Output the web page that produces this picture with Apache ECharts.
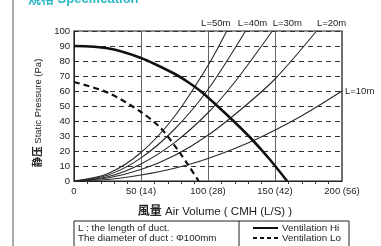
<!DOCTYPE html>
<html>
<head>
<meta charset="utf-8">
<script src="https://cdn.jsdelivr.net/npm/echarts@6/dist/echarts.min.js"></script>
<style>
html,body{margin:0;padding:0;background:#fff;}
#chart{width:381px;height:246px;}
</style>
</head>
<body>
<div id="chart"></div>
<script>
// [air volume, static pressure]
var ventHi = [[0,90],[25,88.5],[50,82],[75,71.5],[85,66],[95,59.5],[107,50],[119,40],[132,28.5],[146,14.5],[159,0]];
var ventLo = [[0,66],[25,59],[50,46],[65,35],[78,20],[85,11],[93,0]];
var duct10 = [[0,0],[25,1],[50,4],[75,8.5],[100,15],[134,27],[169,43],[200,60]];
var duct20 = [[0,0],[25,2],[50,7.6],[75,17],[100,30.5],[125,48],[150,68],[181,100]];
var duct30 = [[0,0],[25,2.8],[50,11.4],[75,25.6],[100,45.5],[120,66],[148,100]];
var duct40 = [[0,0],[25,3.8],[50,15.4],[75,34.5],[100,61],[128,100]];
var duct50 = [[0,0],[25,4.8],[50,19],[75,43],[100,77],[114,100]];
var ductNames = ['L=10m','L=20m','L=30m','L=40m','L=50m'];
var xTickLabels = {0:'0',50:'50 (14)',100:'100 (28)',150:'150 (42)',200:'200 (56)'};

var font = "'Liberation Sans', Arial, 'Noto Sans CJK SC', sans-serif";

function ductSeries(data, name, pos, offset){
    return {
        type:'line', name:name, data:data, smooth:0.3, symbol:'none',
        lineStyle:{color:'#2a2a2a', width:1.1}, z:3,
        markPoint:{
            silent:true, symbol:'circle', symbolSize:0,
            data:[{coord:data[data.length - 1]}],
            label:{show:true, position:pos, distance:3, offset:offset, formatter:name,
                color:'#222', fontSize:9.5, fontFamily:font}
        }
    };
}

var option = {
    animation:false,
    grid:{left:74, right:39, top:31, bottom:65, show:true, borderColor:'#222', borderWidth:1.2},
    xAxis:{
        type:'value', min:0, max:200, interval:50,
        axisLine:{lineStyle:{color:'#222'}},
        axisTick:{show:false},
        minorTick:{show:true, splitNumber:5, length:3, lineStyle:{color:'#333'}},
        axisLabel:{color:'#222', fontSize:9.5, fontFamily:font, margin:6,
            formatter:function(v){ return xTickLabels[v]; }},
        splitLine:{show:true, lineStyle:{color:'#666', width:1}},
        name:'{b|風量} Air Volume ( CMH (L/S) )',
        nameLocation:'middle', nameGap:25,
        nameTextStyle:{color:'#222', fontSize:11.5, fontFamily:font, padding:[0,0,0,14],
            rich:{b:{fontWeight:'bold', fontSize:12, color:'#222', fontFamily:font}}}
    },
    yAxis:{
        type:'value', min:0, max:100, interval:10,
        axisLine:{show:true, lineStyle:{color:'#222'}},
        axisTick:{show:true, inside:true, length:3, lineStyle:{color:'#222'}},
        axisLabel:{color:'#222', fontSize:9.5, fontFamily:font, margin:4},
        splitLine:{show:true, lineStyle:{color:'#333', type:[5,4], width:1}},
        name:'{b|静压} Static Pressure (Pa)',
        nameLocation:'middle', nameRotate:90, nameGap:29,
        nameTextStyle:{color:'#222', fontSize:9.5, fontFamily:font, padding:[0,14,0,0],
            rich:{b:{fontWeight:'bold', fontSize:10.5, color:'#222', fontFamily:font}}}
    },
    series:[
        ductSeries(duct10, ductNames[0], 'right', [0,0]),
        ductSeries(duct20, ductNames[1], 'top', [15,0]),
        ductSeries(duct30, ductNames[2], 'top', [15,0]),
        ductSeries(duct40, ductNames[3], 'top', [7,0]),
        ductSeries(duct50, ductNames[4], 'top', [-11,0]),
        {type:'line', name:'Ventilation Hi', data:ventHi, smooth:0.3, symbol:'none',
            lineStyle:{color:'#111', width:2.6}, z:4},
        {type:'line', name:'Ventilation Lo', data:ventLo, smooth:0.3, symbol:'none',
            lineStyle:{color:'#111', width:2.2, type:[6,4]}, z:4}
    ],
    graphic:[
        {type:'line', shape:{x1:13, y1:0, x2:13, y2:246}, style:{stroke:'#aaa', lineWidth:2}},
        {type:'text', left:28, top:-7, style:{text:'規格 Specification', fill:'#2bb8c4',
            font:'bold 13px ' + font}},
        {type:'rect', shape:{x:74, y:221, width:275, height:40}, style:{fill:'none', stroke:'#222', lineWidth:1}},
        {type:'line', shape:{x1:239, y1:221, x2:239, y2:246}, style:{stroke:'#222', lineWidth:1}},
        {type:'text', x:78, y:228, style:{text:'L : the length of duct.', fill:'#222',
            font:'9.8px ' + font, textVerticalAlign:'middle'}},
        {type:'text', x:78, y:238, style:{text:'The diameter of duct : Φ100mm', fill:'#222',
            font:'9.8px ' + font, textVerticalAlign:'middle'}},
        {type:'line', shape:{x1:253, y1:228, x2:278, y2:228}, style:{stroke:'#111', lineWidth:2}},
        {type:'line', shape:{x1:253, y1:238, x2:278, y2:238}, style:{stroke:'#111', lineWidth:2, lineDash:[4,3]}},
        {type:'text', x:282, y:228, style:{text:'Ventilation Hi', fill:'#222',
            font:'9.8px ' + font, textVerticalAlign:'middle'}},
        {type:'text', x:282, y:238, style:{text:'Ventilation Lo', fill:'#222',
            font:'9.8px ' + font, textVerticalAlign:'middle'}}
    ]
};

var chart = echarts.init(document.getElementById('chart'));
chart.setOption(option);
</script>
</body>
</html>
